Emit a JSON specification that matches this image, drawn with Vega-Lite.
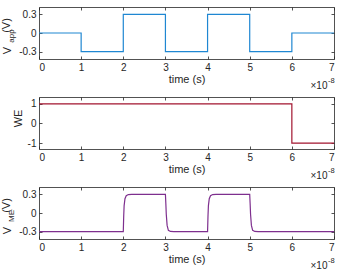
{
  "$schema": "https://vega.github.io/schema/vega-lite/v6.json",
  "padding": {"left": 0, "top": 6, "right": 0, "bottom": 0},
  "background": "white",
  "datasets": {
    "vapp": [
      {"time": 0, "v": 0}, {"time": 1e-8, "v": -0.3}, {"time": 2e-8, "v": 0.3}, {"time": 3e-8, "v": -0.3},
      {"time": 4e-8, "v": 0.3}, {"time": 5e-8, "v": -0.3}, {"time": 6e-8, "v": 0}, {"time": 7e-8, "v": 0}
    ],
    "we": [
      {"time": 0, "v": 1}, {"time": 6e-8, "v": -1}, {"time": 7e-8, "v": -1}
    ],
    "vme": [
      {"time": 0, "v": -0.3}, {"time": 2.0e-8, "v": -0.3}, {"time": 2.01e-8, "v": -0.05}, {"time": 2.02e-8, "v": 0.12},
      {"time": 2.04e-8, "v": 0.23}, {"time": 2.07e-8, "v": 0.28}, {"time": 2.12e-8, "v": 0.298}, {"time": 2.2e-8, "v": 0.3},
      {"time": 3.0e-8, "v": 0.3}, {"time": 3.01e-8, "v": 0.15}, {"time": 3.02e-8, "v": -0.02}, {"time": 3.04e-8, "v": -0.2},
      {"time": 3.07e-8, "v": -0.28}, {"time": 3.12e-8, "v": -0.298}, {"time": 3.2e-8, "v": -0.3},
      {"time": 4.0e-8, "v": -0.3}, {"time": 4.01e-8, "v": -0.05}, {"time": 4.02e-8, "v": 0.12},
      {"time": 4.04e-8, "v": 0.23}, {"time": 4.07e-8, "v": 0.28}, {"time": 4.12e-8, "v": 0.298}, {"time": 4.2e-8, "v": 0.3},
      {"time": 5.0e-8, "v": 0.3}, {"time": 5.01e-8, "v": 0.15}, {"time": 5.02e-8, "v": -0.02}, {"time": 5.04e-8, "v": -0.2},
      {"time": 5.07e-8, "v": -0.28}, {"time": 5.12e-8, "v": -0.298}, {"time": 5.2e-8, "v": -0.3},
      {"time": 7e-8, "v": -0.3}
    ]
  },
  "vconcat": [
    {
      "width": 295, "height": 52,
      "data": {"name": "vapp"},
      "layer": [
        {
          "mark": {"type": "line", "interpolate": "step-after", "color": "#1f87d2", "strokeWidth": 1.2},
          "encoding": {
            "x": {"field": "time", "type": "quantitative", "scale": {"domain": [0, 7e-8], "nice": false, "zero": false},
              "axis": {"orient": "bottom", "values": [0, 1e-8, 2e-8, 3e-8, 4e-8, 5e-8, 6e-8, 7e-8], "labelExpr": "round(datum.value*1e8)", "title": "time (s)"}},
            "y": {"field": "v", "type": "quantitative", "scale": {"domain": [-0.42, 0.42], "nice": false},
              "axis": {"orient": "left", "values": [-0.3, 0, 0.3], "labelExpr": "datum.value == 0 ? '0' : (datum.value < 0 ? '-' : '') + format(abs(datum.value), '.1f')",
                "title": "V", "titleX": -28.5, "titleY": 43, "titleAngle": 270, "titleAlign": "center", "titleBaseline": "alphabetic"}}
          }
        },
        {
          "mark": {"type": "line", "interpolate": "step-after", "opacity": 0},
          "encoding": {
            "x": {"field": "time", "type": "quantitative",
              "axis": {"orient": "top", "values": [0, 1e-8, 2e-8, 3e-8, 4e-8, 5e-8, 6e-8, 7e-8], "labels": false,
                "title": "×10", "titleX": 288, "titleY": 81, "titleAlign": "right", "titleBaseline": "alphabetic", "titleFontSize": 10}},
            "y": {"field": "v", "type": "quantitative",
              "axis": {"orient": "right", "values": [-0.3, 0, 0.3], "labels": false,
                "title": "app", "titleFontSize": 8, "titleX": -320.5, "titleY": 28.5, "titleAngle": 270, "titleAlign": "center", "titleBaseline": "alphabetic"}}
          }
        },
        {
          "mark": {"type": "line", "interpolate": "step-after", "opacity": 0},
          "encoding": {
            "x": {"field": "time", "type": "quantitative",
              "axis": {"orient": "top", "labels": false, "ticks": false, "domain": false,
                "title": "-8", "titleX": 288.5, "titleY": 75, "titleAlign": "left", "titleBaseline": "alphabetic", "titleFontSize": 7.5}},
            "y": {"field": "v", "type": "quantitative",
              "axis": {"orient": "right", "labels": false, "ticks": false, "domain": false,
                "title": "(V)", "titleX": -324.5, "titleY": 18, "titleAngle": 270, "titleAlign": "center", "titleBaseline": "alphabetic"}}
          }
        }
      ],
      "resolve": {"axis": {"x": "independent", "y": "independent"}}
    },
    {
      "width": 295, "height": 52,
      "data": {"name": "we"},
      "layer": [
        {
          "mark": {"type": "line", "interpolate": "step-after", "color": "#a2142f", "strokeWidth": 1.2},
          "encoding": {
            "x": {"field": "time", "type": "quantitative", "scale": {"domain": [0, 7e-8], "nice": false, "zero": false},
              "axis": {"orient": "bottom", "values": [0, 1e-8, 2e-8, 3e-8, 4e-8, 5e-8, 6e-8, 7e-8], "labelExpr": "round(datum.value*1e8)", "title": "time (s)"}},
            "y": {"field": "v", "type": "quantitative", "scale": {"domain": [-1.3, 1.35], "nice": false},
              "axis": {"orient": "left", "values": [-1, 0, 1], "labelExpr": "datum.value == 0 ? '0' : (datum.value < 0 ? '-' : '') + format(abs(datum.value), 'd')",
                "title": "WE", "titleX": -17.5, "titleY": 21, "titleAngle": 270, "titleAlign": "center", "titleBaseline": "alphabetic"}}
          }
        },
        {
          "mark": {"type": "line", "interpolate": "step-after", "opacity": 0},
          "encoding": {
            "x": {"field": "time", "type": "quantitative",
              "axis": {"orient": "top", "values": [0, 1e-8, 2e-8, 3e-8, 4e-8, 5e-8, 6e-8, 7e-8], "labels": false,
                "title": "×10", "titleX": 288, "titleY": 81, "titleAlign": "right", "titleBaseline": "alphabetic", "titleFontSize": 10}},
            "y": {"field": "v", "type": "quantitative",
              "axis": {"orient": "right", "values": [-1, 0, 1], "labels": false, "title": null}}
          }
        },
        {
          "mark": {"type": "line", "interpolate": "step-after", "opacity": 0},
          "encoding": {
            "x": {"field": "time", "type": "quantitative",
              "axis": {"orient": "top", "labels": false, "ticks": false, "domain": false,
                "title": "-8", "titleX": 288.5, "titleY": 75, "titleAlign": "left", "titleBaseline": "alphabetic", "titleFontSize": 7.5}},
            "y": {"field": "v", "type": "quantitative", "axis": null}
          }
        }
      ],
      "resolve": {"axis": {"x": "independent", "y": "independent"}}
    },
    {
      "width": 295, "height": 52,
      "data": {"name": "vme"},
      "layer": [
        {
          "mark": {"type": "line", "interpolate": "linear", "color": "#7e2f8e", "strokeWidth": 1.2},
          "encoding": {
            "x": {"field": "time", "type": "quantitative", "scale": {"domain": [0, 7e-8], "nice": false, "zero": false},
              "axis": {"orient": "bottom", "values": [0, 1e-8, 2e-8, 3e-8, 4e-8, 5e-8, 6e-8, 7e-8], "labelExpr": "round(datum.value*1e8)", "title": "time (s)"}},
            "y": {"field": "v", "type": "quantitative", "scale": {"domain": [-0.42, 0.42], "nice": false},
              "axis": {"orient": "left", "values": [-0.3, 0, 0.3], "labelExpr": "datum.value == 0 ? '0' : (datum.value < 0 ? '-' : '') + format(abs(datum.value), '.1f')",
                "title": "V", "titleX": -28.5, "titleY": 43, "titleAngle": 270, "titleAlign": "center", "titleBaseline": "alphabetic"}}
          }
        },
        {
          "mark": {"type": "line", "opacity": 0},
          "encoding": {
            "x": {"field": "time", "type": "quantitative",
              "axis": {"orient": "top", "values": [0, 1e-8, 2e-8, 3e-8, 4e-8, 5e-8, 6e-8, 7e-8], "labels": false,
                "title": "×10", "titleX": 288, "titleY": 81, "titleAlign": "right", "titleBaseline": "alphabetic", "titleFontSize": 10}},
            "y": {"field": "v", "type": "quantitative",
              "axis": {"orient": "right", "values": [-0.3, 0, 0.3], "labels": false,
                "title": "ME", "titleFontSize": 8, "titleX": -320.5, "titleY": 28.5, "titleAngle": 270, "titleAlign": "center", "titleBaseline": "alphabetic"}}
          }
        },
        {
          "mark": {"type": "line", "opacity": 0},
          "encoding": {
            "x": {"field": "time", "type": "quantitative",
              "axis": {"orient": "top", "labels": false, "ticks": false, "domain": false,
                "title": "-8", "titleX": 288.5, "titleY": 75, "titleAlign": "left", "titleBaseline": "alphabetic", "titleFontSize": 7.5}},
            "y": {"field": "v", "type": "quantitative",
              "axis": {"orient": "right", "labels": false, "ticks": false, "domain": false,
                "title": "(V)", "titleX": -324.5, "titleY": 18, "titleAngle": 270, "titleAlign": "center", "titleBaseline": "alphabetic"}}
          }
        }
      ],
      "resolve": {"axis": {"x": "independent", "y": "independent"}}
    }
  ],
  "spacing": 38,
  "bounds": "flush",
  "config": {
    "view": {"stroke": null},
    "axis": {
      "grid": false,
      "labelFont": "Liberation Sans", "titleFont": "Liberation Sans",
      "labelFontSize": 10, "titleFontSize": 11, "titleFontWeight": "normal",
      "labelColor": "#262626", "titleColor": "#262626",
      "domainColor": "#262626", "tickColor": "#262626", "domainWidth": 0.8, "tickWidth": 0.8,
      "tickSize": -3, "labelPadding": 6, "titlePadding": 1
    }
  }
}
